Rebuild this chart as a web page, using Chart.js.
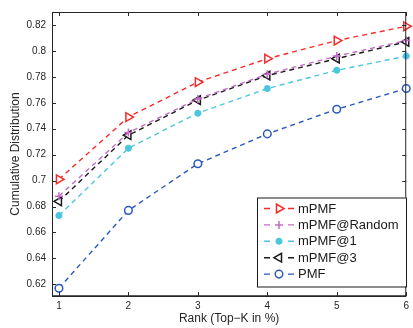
<!DOCTYPE html>
<html>
<head>
<meta charset="utf-8">
<script src="https://cdn.jsdelivr.net/npm/chart.js@4.4.1/dist/chart.umd.min.js"></script>
<style>
  html, body { margin: 0; padding: 0; background: #fff; }
  #wrap { width: 413px; height: 328px; position: relative; }
</style>
</head>
<body>
<div id="wrap"><canvas id="c" width="413" height="328"></canvas></div>
<script>
// ---- data ----
const ranks = [1, 2, 3, 4, 5, 6];
const xTicks = [1, 2, 3, 4, 5, 6];
const yTicks = [0.62, 0.64, 0.66, 0.68, 0.70, 0.72, 0.74, 0.76, 0.78, 0.80, 0.82];
const seriesNames = ['mPMF', 'mPMF@Random', 'mPMF@1', 'mPMF@3', 'PMF'];
const mPMF       = [0.701, 0.749, 0.776, 0.794, 0.808, 0.819];
const mPMFRandom = [0.688, 0.737, 0.763, 0.782, 0.796, 0.808];
const mPMF1      = [0.673, 0.725, 0.752, 0.771, 0.785, 0.796];
const mPMF3      = [0.684, 0.735, 0.762, 0.781, 0.794, 0.807];
const PMF        = [0.617, 0.677, 0.713, 0.736, 0.755, 0.771];

const colors = ['#f52a2a', '#c66cc6', '#4cc6dc', '#1a1a1a', '#2a58bc'];
const styles = [
  { pointStyle: 'triangle', rot: 90,  r: 5,   fill: '#ffffff' },
  { pointStyle: 'cross',    rot: 0,   r: 4,   fill: 'transparent' },
  { pointStyle: 'star',     rot: 0,   r: 3.5, fill: 'transparent' },
  { pointStyle: 'triangle', rot: -90, r: 5,   fill: '#ffffff' },
  { pointStyle: 'circle',   rot: 0,   r: 3.8, fill: '#ffffff' }
];
const allSeries = [mPMF, mPMFRandom, mPMF1, mPMF3, PMF];

const datasets = allSeries.map((vals, i) => ({
  label: seriesNames[i],
  data: ranks.map((x, j) => ({ x: x, y: vals[j] })),
  borderColor: colors[i],
  backgroundColor: styles[i].fill,
  borderWidth: 1.4,
  borderDash: [5, 4],
  pointStyle: styles[i].pointStyle,
  pointRotation: styles[i].rot,
  pointRadius: styles[i].r,
  pointBorderWidth: i === 2 ? 2.2 : 1.5,
  pointBorderColor: colors[i],
  pointBackgroundColor: styles[i].fill,
  tension: 0,
  fill: false,
  clip: false
}));

const axisColor = '#262626';

const boxPlugin = {
  id: 'boxPlugin',
  afterDatasetsDraw(chart) {
    const ctx = chart.ctx;
    const a = chart.chartArea;
    const xs = chart.scales.x, ys = chart.scales.y;
    ctx.save();
    ctx.strokeStyle = axisColor;
    ctx.lineWidth = 1;
    ctx.strokeRect(a.left + 0.5, a.top + 0.5, a.right - a.left - 1, a.bottom - a.top);
    const tl = 4;
    ctx.beginPath();
    xTicks.forEach(v => {
      const px = Math.round(xs.getPixelForValue(v)) + 0.5;
      ctx.moveTo(px, a.bottom); ctx.lineTo(px, a.bottom - tl);
      ctx.moveTo(px, a.top); ctx.lineTo(px, a.top + tl);
    });
    yTicks.forEach(v => {
      const py = Math.round(ys.getPixelForValue(v)) + 0.5;
      ctx.moveTo(a.left, py); ctx.lineTo(a.left + tl, py);
      ctx.moveTo(a.right, py); ctx.lineTo(a.right - tl, py);
    });
    ctx.stroke();
    // thicker bottom axis line
    ctx.lineWidth = 1.6;
    ctx.beginPath();
    ctx.moveTo(a.left, a.bottom); ctx.lineTo(a.right, a.bottom);
    ctx.stroke();
    ctx.restore();
  },
  afterDraw(chart) {
    const ctx = chart.ctx;
    const bx = 257, by = 197.5, bw = 149, bh = 89;
    ctx.save();
    ctx.fillStyle = '#ffffff';
    ctx.fillRect(bx, by, bw, bh);
    ctx.strokeStyle = '#1a1a1a';
    ctx.lineWidth = 1;
    ctx.strokeRect(bx + 0.5, by + 0.5, bw, bh);
    const rowY0 = 208.5, rowStep = 16.4;
    chart.data.datasets.forEach((ds, i) => {
      const y = rowY0 + i * rowStep;
      ctx.strokeStyle = ds.borderColor;
      ctx.lineWidth = 1.4;
      ctx.setLineDash([]);
      ctx.beginPath();
      ctx.moveTo(264, y); ctx.lineTo(270, y);
      ctx.moveTo(288, y); ctx.lineTo(294, y);
      ctx.stroke();
      const opts = {
        pointStyle: ds.pointStyle,
        rotation: ds.pointRotation,
        radius: ds.pointRadius,
        borderWidth: ds.pointBorderWidth
      };
      ctx.fillStyle = ds.pointBackgroundColor;
      ctx.strokeStyle = ds.pointBorderColor;
      ctx.lineWidth = ds.pointBorderWidth;
      if (Chart.helpers && Chart.helpers.drawPoint) {
        Chart.helpers.drawPoint(ctx, opts, 279, y);
      }
      ctx.fillStyle = '#1a1a1a';
      ctx.font = '13px "Liberation Sans", Arial, sans-serif';
      ctx.textBaseline = 'middle';
      ctx.textAlign = 'left';
      ctx.fillText(ds.label, 298, y + 0.5);
    });
    ctx.restore();
  }
};

const tickFont = { family: '"Liberation Sans", Arial, sans-serif', size: 10 };
const titleFont = { family: '"Liberation Sans", Arial, sans-serif', size: 12 };

new Chart(document.getElementById('c'), {
  type: 'line',
  data: { datasets: datasets },
  options: {
    responsive: false,
    animation: false,
    devicePixelRatio: 1,
    layout: { padding: { top: 9, right: 4, left: 0, bottom: 0 } },
    plugins: { legend: { display: false }, tooltip: { enabled: false } },
    scales: {
      x: {
        type: 'linear',
        min: 0.9, max: 6,
        afterBuildTicks(s) { s.ticks = xTicks.map(v => ({ value: v })); },
        afterFit(s) { s.height = 32; },
        grid: { display: false, drawTicks: false },
        border: { display: false },
        ticks: { font: tickFont, color: axisColor, padding: 4, maxRotation: 0,
                 callback: v => String(v) },
        title: { display: true, text: 'Rank (Top\u2212K in %)', font: titleFont,
                 color: axisColor, padding: { top: 0, bottom: 2 } }
      },
      y: {
        type: 'linear',
        min: 0.611, max: 0.830,
        afterBuildTicks(s) { s.ticks = yTicks.map(v => ({ value: v })); },
        afterFit(s) { s.width = 52; },
        grid: { display: false, drawTicks: false },
        border: { display: false },
        ticks: { font: tickFont, color: axisColor, padding: 6,
                 callback: v => String(Number(v.toFixed(2))) },
        title: { display: true, text: 'Cumulative Distribution', font: titleFont,
                 color: axisColor, padding: { top: 8, bottom: 0 } }
      }
    }
  },
  plugins: [boxPlugin]
});
</script>
</body>
</html>
